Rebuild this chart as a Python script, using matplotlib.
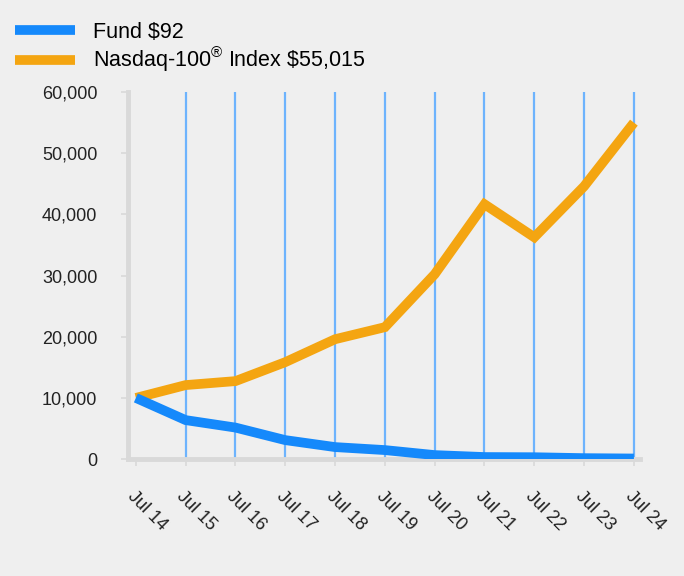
import matplotlib.pyplot as plt

plt.rcParams['font.family'] = ['Liberation Sans', 'DejaVu Sans']
plt.rcParams['mathtext.fontset'] = 'custom'
plt.rcParams['mathtext.rm'] = 'Liberation Sans'

years = ['Jul 14', 'Jul 15', 'Jul 16', 'Jul 17', 'Jul 18', 'Jul 19',
         'Jul 20', 'Jul 21', 'Jul 22', 'Jul 23', 'Jul 24']
fund = [10000, 6370, 5150, 3100, 1960, 1470, 650, 330, 300, 150, 92]
nasdaq = [10000, 12100, 12750, 15850, 19600, 21570, 30230, 41670, 36270, 44600, 55015]

blue = '#1589fb'
orange = '#f4a511'
gray = '#d9d9d9'

fig = plt.figure(figsize=(6.84, 5.76), dpi=100, facecolor='#efefef')
ax = fig.add_axes([0.187, 0.203, 0.7485, 0.637])
ax.set_facecolor('#efefef')

x = list(range(len(years)))
ax.vlines(x[1:], 0, 60000, color='#6db3fd', lw=1.6, zorder=1)
ax.plot(x, fund, color=blue, lw=7, solid_capstyle='butt', solid_joinstyle='miter',
        label='Fund \\$92', zorder=3)
ax.plot(x, nasdaq, color=orange, lw=7, solid_capstyle='butt', solid_joinstyle='miter',
        label='Nasdaq-100$^{\u00ae}$ Index \\$55,015', zorder=2)

ax.set_xlim(-0.16, 10.12)
ax.set_ylim(0, 60000)
ax.set_yticks(range(0, 60001, 10000))
ax.set_yticklabels([f'{v:,}' for v in range(0, 60001, 10000)])
ax.set_xticks(x)
ax.set_xticklabels(years, rotation=-45, ha='left', va='top', rotation_mode='anchor')

for s in ['top', 'right']:
    ax.spines[s].set_visible(False)
for s in ['left', 'bottom']:
    ax.spines[s].set_color(gray)
    ax.spines[s].set_linewidth(3.5)
ax.tick_params(axis='both', colors=gray, labelcolor='#222222', labelsize=13,
               length=5, width=1.2)
ax.tick_params(axis='y', pad=17)
ax.tick_params(axis='x', pad=16)
for lab in ax.get_xticklabels():
    lab.set_x(0)

fig.legend(loc='upper left', bbox_to_anchor=(-0.01, 1.0), frameon=False,
           fontsize=15.5, handlelength=2.8, handletextpad=0.85, labelspacing=0.12,
           borderpad=0.5)

fig.savefig('out.png', dpi=100, facecolor=fig.get_facecolor())
